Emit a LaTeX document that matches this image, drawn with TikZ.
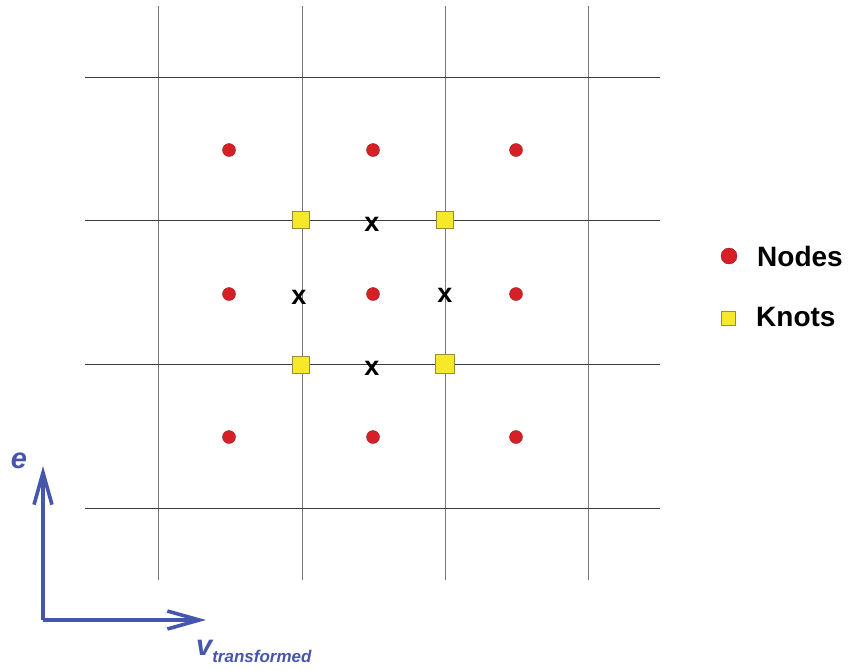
\documentclass[tikz,border=0pt]{standalone}
\usepackage{fontspec}
\setmainfont{Liberation Sans}
\usepackage{tikz}
\usetikzlibrary{arrows.meta}

\definecolor{nodered}{RGB}{214,32,40}
\definecolor{knotyellow}{RGB}{247,232,42}
\definecolor{knotedge}{RGB}{150,140,60}
\definecolor{axisblue}{RGB}{70,86,172}

\tikzset{
  gridv/.style={draw={rgb,255:red,120;green,120;blue,120},line width=0.8pt},
  gridh/.style={draw={rgb,255:red,60;green,60;blue,60},line width=0.8pt},
  nodedot/.style={circle,fill=nodered,draw={rgb,255:red,150;green,30;blue,30},line width=0.4pt,minimum size=13pt,inner sep=0pt},
  knotbox/.style={rectangle,fill=knotyellow,draw=knotedge,line width=0.6pt,minimum size=17pt,inner sep=0pt},
  xmark/.style={inner sep=0pt,font=\bfseries\fontsize{27}{27}\selectfont},
  legendtext/.style={inner sep=0pt,anchor=west,font=\bfseries\fontsize{28}{30}\selectfont},
  axisarrow/.style={draw=axisblue,line width=3.6pt,-{Straight Barb[length=32pt,width=18pt]}},
}

\begin{document}
\begin{tikzpicture}[x=1pt,y=-1pt]
\path[use as bounding box] (0,0) rectangle (848,670);
\path[fill=white,draw=none] (0,0) rectangle (848,670);
% grid
\foreach \gx in {158,302,445,588}
  \draw[gridv] (\gx,6) -- (\gx,580);
\foreach \gy in {77,220,364,508}
  \draw[gridh] (85,\gy) -- (660,\gy);
% nodes
\foreach \nx/\nc in {229/a,373/b,516/c}
  \foreach \ny/\nr in {150/1,294/2,437/3}
    \node[nodedot] (n\nc\nr) at (\nx,\ny) {};
% knots
\node[knotbox] (k11) at (301,220) {};
\node[knotbox] (k21) at (445,220) {};
\node[knotbox] (k12) at (301,365) {};
\node[knotbox,minimum size=19pt] (k22) at (445,364) {};
% crosses
\node[xmark] (xtop) at (372,224) {x};
\node[xmark] (xleft) at (299,297) {x};
\node[xmark] (xright) at (445,295) {x};
\node[xmark] (xbot) at (372,368) {x};
% legend
\node[nodedot,minimum size=16pt] (legnode) at (729,256) {};
\node[legendtext] (legnodetext) at (757,256) {Nodes};
\node[knotbox,minimum size=14pt] (legknot) at (728,318) {};
\node[legendtext] (legknottext) at (756,317) {Knots};
% axes
\coordinate (origin) at (43,620);
\coordinate (etip) at (43,466);
\coordinate (vtip) at (206,620);
\draw[axisarrow] (origin) -- (etip);
\draw[axisarrow] (origin) -- (vtip);
\node[inner sep=0pt,text=axisblue,font=\bfseries\itshape\fontsize{29}{29}\selectfont] (elabel) at (19,461) {e};
\node[inner sep=0pt,anchor=base west,text=axisblue,font=\bfseries\itshape\fontsize{29}{29}\selectfont] (vlabel) at (196,655) {v\raisebox{-7pt}{\fontsize{17}{17}\selectfont transformed}};
\end{tikzpicture}
\end{document}
